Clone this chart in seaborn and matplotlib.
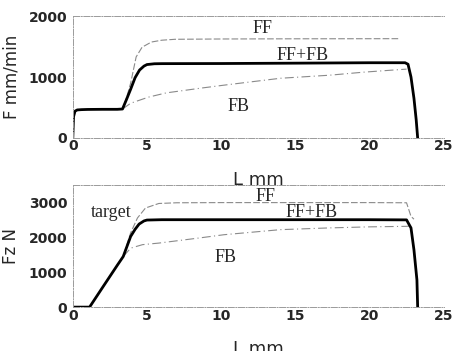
import seaborn as sns
import pandas as pd
import matplotlib
matplotlib.use('Agg')
import matplotlib.pyplot as plt

# feed rate F (mm/min) vs stroke L (mm)
f_ffb_x = [0, 0.05, 0.15, 0.3, 0.6, 1, 2, 3, 3.35, 3.6, 3.9, 4.2, 4.5, 4.8, 5.0, 5.5, 6, 10, 15, 20, 22.4, 22.6, 22.8, 23.0, 23.15, 23.25]
f_ffb_y = [0, 350, 440, 460, 465, 468, 470, 470, 475, 620, 800, 990, 1115, 1180, 1205, 1218, 1220, 1222, 1228, 1235, 1235, 1210, 1000, 650, 300, 0]
f_ff_x = [0, 0.05, 0.15, 0.3, 1, 3, 3.35, 3.6, 3.9, 4.27, 4.67, 5.3, 6.0, 6.9, 10, 15, 22.0]
f_ff_y = [0, 350, 440, 460, 468, 470, 475, 640, 900, 1330, 1490, 1575, 1605, 1620, 1625, 1628, 1630]
f_fb_x = [3.35, 3.9, 5.1, 6.3, 8.7, 10.3, 14, 17.3, 19.6, 21.6, 22.5]
f_fb_y = [475, 570, 670, 740, 820, 870, 980, 1030, 1080, 1115, 1130]

# force Fz (N) vs stroke L (mm)
fz_ffb_x = [0, 1.13, 2.0, 3.0, 3.4, 3.9, 4.2, 4.47, 4.8, 5.0, 6, 10, 15, 20, 22.5, 22.8, 23.0, 23.2, 23.25]
fz_ffb_y = [0, 0, 560, 1200, 1450, 2025, 2230, 2380, 2470, 2495, 2505, 2505, 2505, 2505, 2500, 2270, 1640, 780, 0]
fz_ff_x = [0, 1.13, 2.0, 3.0, 3.4, 3.9, 4.36, 4.9, 5.8, 7, 10, 15, 20, 22.5, 22.8, 23.0]
fz_ff_y = [0, 0, 560, 1200, 1450, 2130, 2555, 2840, 2970, 2990, 2995, 2995, 2995, 2990, 2600, 2520]
fz_fb_x = [3.4, 3.9, 4.7, 5.8, 8.5, 10.2, 14, 17.3, 20, 22.5, 22.8]
fz_fb_y = [1450, 1690, 1790, 1835, 1980, 2075, 2220, 2270, 2300, 2315, 2330]

sns.set_style("white")
plt.rcParams['font.family'] = ['DejaVu Sans']

fig = plt.figure(figsize=(4.55, 3.51), dpi=100)
ax1 = fig.add_axes([0.160, 0.607, 0.815, 0.347])
ax2 = fig.add_axes([0.160, 0.125, 0.815, 0.348])

thin_col = '#8a8a8a'
serif = ['Liberation Serif', 'DejaVu Serif']


def style_axes(ax, ymax, yticks, ylabel, label_y):
    ax.set_xlim(0, 25)
    ax.set_ylim(0, ymax)
    ax.set_xticks([0, 5, 10, 15, 20, 25])
    ax.set_yticks(yticks)
    for side in ['top', 'left', 'bottom']:
        ax.spines[side].set_color('#9a9a9a')
        ax.spines[side].set_linewidth(0.7)
        ax.spines[side].set_linestyle('-.')
    ax.spines['right'].set_visible(False)
    ax.tick_params(axis='x', length=0, pad=1)
    ax.tick_params(axis='y', length=3, direction='in', color='#9a9a9a', pad=4)
    for lab in ax.get_xticklabels() + ax.get_yticklabels():
        lab.set_fontsize(10)
        lab.set_fontweight('bold')
    ax.set_xlabel('L mm', fontsize=13, va='top')
    ax.xaxis.set_label_coords(0.5, label_y)
    ax.set_ylabel(ylabel, fontsize=12)
    ax.yaxis.set_label_coords(-0.142, 0.5)


def draw(ax, ffb, ff, fb):
    sns.lineplot(x=ff[0], y=ff[1], ax=ax, sort=False, color=thin_col, linewidth=0.8, linestyle=(0, (6, 2)))
    sns.lineplot(x=fb[0], y=fb[1], ax=ax, sort=False, color=thin_col, linewidth=0.8, linestyle=(0, (8, 3, 1, 3)))
    sns.lineplot(x=ffb[0], y=ffb[1], ax=ax, sort=False, color='black', linewidth=2.0)


draw(ax1, (f_ffb_x, f_ffb_y), (f_ff_x, f_ff_y), (f_fb_x, f_fb_y))
style_axes(ax1, 2000, [0, 1000, 2000], 'F mm/min', -0.27)
ax1.text(12.8, 1800, 'FF', family=serif, fontsize=13, ha='center', va='center')
ax1.text(15.5, 1360, 'FF+FB', family=serif, fontsize=13, ha='center', va='center')
ax1.text(11.2, 510, 'FB', family=serif, fontsize=13, ha='center', va='center')

draw(ax2, (fz_ffb_x, fz_ffb_y), (fz_ff_x, fz_ff_y), (fz_fb_x, fz_fb_y))
style_axes(ax2, 3500, [0, 1000, 2000, 3000], 'Fz N', -0.27)
ax2.text(13.0, 3170, 'FF', family=serif, fontsize=13, ha='center', va='center')
ax2.text(16.1, 2710, 'FF+FB', family=serif, fontsize=13, ha='center', va='center')
ax2.text(10.3, 1410, 'FB', family=serif, fontsize=13, ha='center', va='center')
ax2.text(2.6, 2700, 'target', family=serif, fontsize=13, ha='center', va='center')

fig.savefig('out.png', dpi=100)
